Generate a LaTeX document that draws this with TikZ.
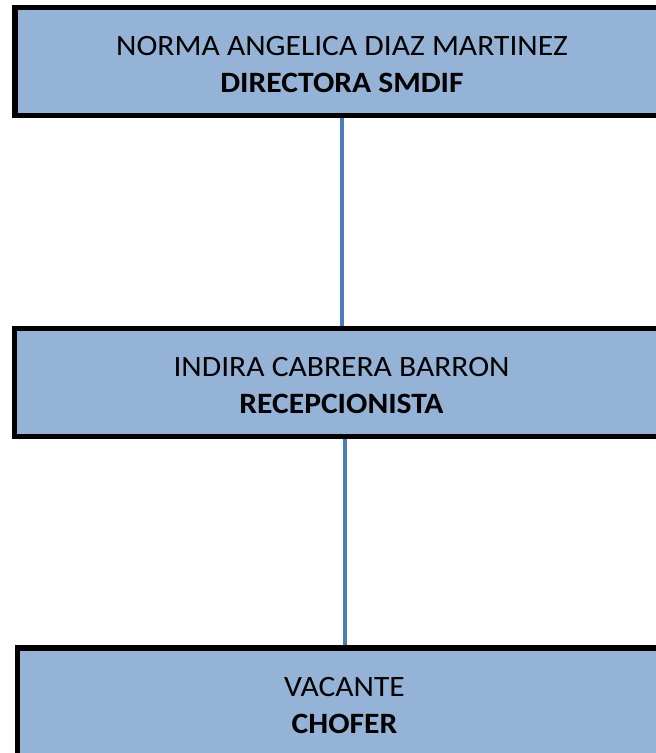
\documentclass[tikz,border=0pt]{standalone}
\usepackage{fontspec}
\setmainfont[FakeStretch=1.07]{Carlito}
\definecolor{boxfill}{HTML}{95B3D7}
\definecolor{linkblue}{HTML}{4A7EBB}
\begin{document}
\begin{tikzpicture}[x=1pt,y=-1pt,
  orgbox/.style={draw=black, line width=5.3pt, fill=boxfill, minimum width=654pt,
    minimum height=108.5pt, inner sep=0pt},
  orgtext/.style={inner sep=0pt, align=center, yshift=-3pt,
    font=\fontsize{29.5}{37}\selectfont},
  link/.style={draw=linkblue, line width=4pt}]
\useasboundingbox (0,0) rectangle (656,753);
\clip (0,0) rectangle (656,753);
\node[orgbox] (b1) at (342,61.4) {};
\node[orgbox] (b2) at (341.5,382.4) {};
\node[orgbox] (b3) at (344.5,702.2) {};
\node[orgtext] (t1) at (b1.center) {NORMA ANGELICA DIAZ MARTINEZ\\\textbf{DIRECTORA SMDIF}};
\node[orgtext] (t2) at (b2.center) {INDIRA CABRERA BARRON\\\textbf{RECEPCIONISTA}};
\node[orgtext] (t3) at (b3.center) {VACANTE\\\textbf{CHOFER}};
\draw[link] (b2.north |- b1.south) -- (b2.north);
\draw[link] (b3.north |- b2.south) -- (b3.north);
\end{tikzpicture}
\end{document}
